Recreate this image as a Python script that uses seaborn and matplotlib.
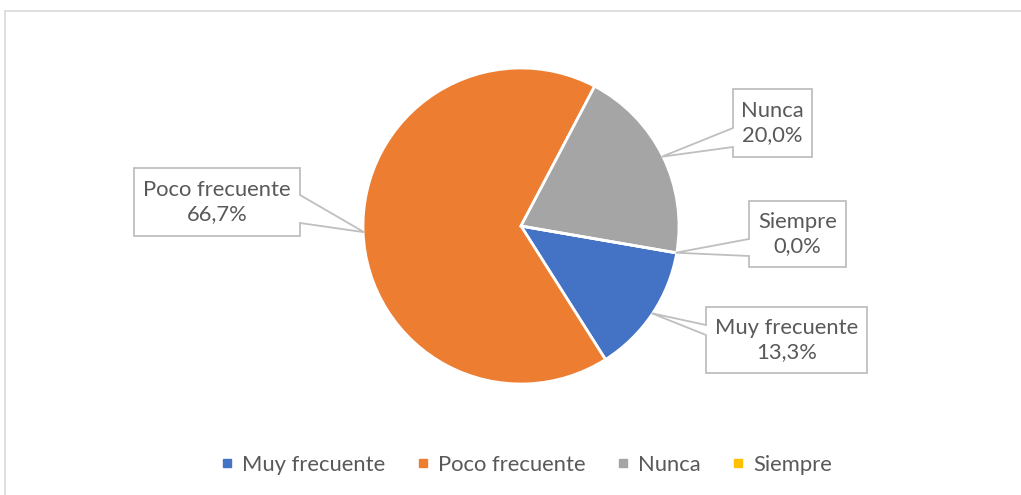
import matplotlib
matplotlib.use("Agg")
import matplotlib.pyplot as plt
import seaborn as sns
import numpy as np
from matplotlib.patches import Polygon
from matplotlib.lines import Line2D

# ---- data ----
categories = ["Muy frecuente", "Poco frecuente", "Nunca", "Siempre"]
percentages = [13.3, 66.7, 20.0, 0.0]
value_labels = ["13,3%", "66,7%", "20,0%", "0,0%"]
colors = ["#4472C4", "#ED7D31", "#A5A5A5", "#FFC000"]

# ---- layout (pixel coords, top-left origin) ----
# callout boxes: x0, x1, y0, y1, side of pointer, pointer base y0, y1
boxes = [
    (706, 867, 307, 373, "left", 325, 335),
    (134, 300, 168, 236, "right", 195, 223),
    (733, 812, 89, 157, "left", 128, 147),
    (749, 846, 201, 267, "left", 239, 256),
]

sns.set_theme(style="white")
plt.rcParams['font.family'] = ['Lato', 'DejaVu Sans']

W, H = 1021, 495
fig = plt.figure(figsize=(W / 100, H / 100), dpi=100)
fig.patch.set_facecolor("white")
ax = fig.add_axes([0, 0, 1, 1])

cx, cy, R = 521, H - 226, 158
wedges, _ = ax.pie(percentages, colors=colors, startangle=-9.8, counterclock=False,
                   center=(cx, cy), radius=R,
                   wedgeprops=dict(edgecolor="white", linewidth=2))
ax.set_xlim(0, W)
ax.set_ylim(0, H)
ax.set_aspect("equal")
ax.axis("off")

# chart frame
frame_col = "#D9D9D9"
ax.add_line(Line2D([4.5, 4.5], [0, H - 10.5], color=frame_col, lw=1.2))
ax.add_line(Line2D([4.5, W], [H - 10.5, H - 10.5], color=frame_col, lw=1.2))

text_col = "#595959"
fs = 15.8
for w, cat, lab, b in zip(wedges, categories, value_labels, boxes):
    mid = np.deg2rad((w.theta1 + w.theta2) / 2)
    tx = cx + (R - 1) * np.cos(mid)
    ty = cy + (R - 1) * np.sin(mid)
    x0, x1, y0, y1, side, b0, b1 = b
    Y = lambda y: H - y
    if side == "left":
        pts = [(x0, Y(y0)), (x1, Y(y0)), (x1, Y(y1)), (x0, Y(y1)),
               (x0, Y(b1)), (tx, ty), (x0, Y(b0))]
    else:
        pts = [(x0, Y(y0)), (x1, Y(y0)), (x1, Y(b0)), (tx, ty),
               (x1, Y(b1)), (x1, Y(y1)), (x0, Y(y1))]
    ax.add_patch(Polygon(pts, closed=True, facecolor="white",
                         edgecolor="#BFBFBF", lw=1.3, zorder=5))
    ax.text((x0 + x1) / 2, H - (y0 + y1) / 2, f"{cat}\n{lab}", ha="center",
            va="center", color=text_col, fontsize=fs, linespacing=1.3, zorder=6)

handles = [Line2D([], [], marker="s", linestyle="none", markersize=5.8,
                  markerfacecolor=c, markeredgecolor=c) for c in colors]
fig.legend(handles, categories, loc="center", bbox_to_anchor=(525 / W, 1 - 465 / H),
           ncol=4, frameon=False, handletextpad=0.28, columnspacing=1.32,
           handlelength=0.8, fontsize=fs, labelcolor=text_col)

fig.savefig("out.png", dpi=100, facecolor="white")
